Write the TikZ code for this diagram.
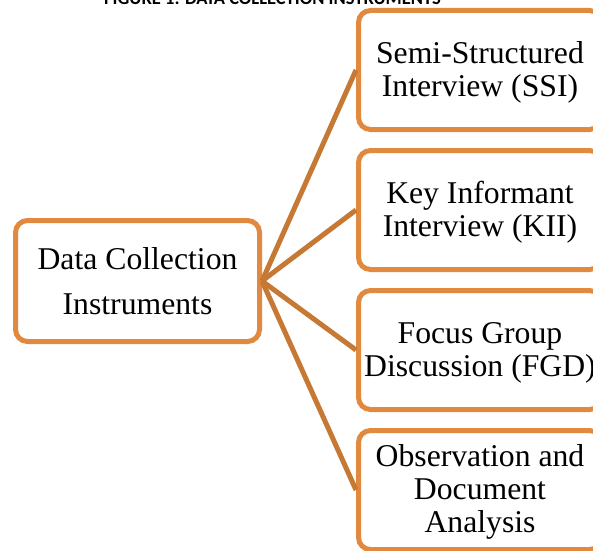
\documentclass[tikz,border=0pt]{standalone}
\usepackage{fontspec}
\setmainfont{Liberation Serif}
\newfontfamily\titlefont{Carlito}
\usepackage{tikz}
\usetikzlibrary{positioning}
\definecolor{dcorange}{RGB}{226,137,64}
\definecolor{dcline}{RGB}{198,121,52}
% text block set a little low in its box
\newcommand{\lowtext}[1]{\raisebox{-3pt}[\height][\depth]{\begin{tabular}{@{}c@{}}#1\end{tabular}}}
\tikzset{
  srcbox/.style={
    rectangle, rounded corners=12pt, draw=dcorange, line width=5pt,
    fill=white, minimum width=244pt, minimum height=121pt,
    inner sep=0pt, align=center, font=\fontsize{31.7}{45}\selectfont
  },
  instbox/.style={
    rectangle, rounded corners=12pt, draw=dcorange, line width=5pt,
    fill=white, minimum width=243pt, minimum height=119pt,
    inner sep=0pt, font=\fontsize{31.7}{33}\selectfont
  },
  branchline/.style={dcline, line width=5pt}
}
\begin{document}
\begin{tikzpicture}[x=1pt, y=1pt, node distance=16pt]
  \useasboundingbox (0,0) rectangle (593,550);

  \node[anchor=base, font=\fontsize{18.5}{20}\selectfont\titlefont\bfseries] (title)
    at (272.5,545.5) {FIGURE 1: DATA COLLECTION INSTRUMENTS};

  \node[srcbox] (dci) at (137.5,269) {Data Collection\\Instruments};

  \node[instbox] (ssi) at (480,480) {\lowtext{Semi-Structured\\Interview (SSI)}};
  \node[instbox, below=of ssi] (kii) {\lowtext{Key Informant\\Interview (KII)}};
  \node[instbox, below=of kii] (fgd) {\lowtext{Focus Group\\Discussion (FGD)}};
  \node[instbox, below=of fgd] (oda) {\lowtext{Observation and\\Document\\Analysis}};

  % Branches
  \draw[branchline] (dci.east) -- (ssi.west);
  \draw[branchline] (dci.east) -- (kii.west);
  \draw[branchline] (dci.east) -- (fgd.west);
  \draw[branchline] (dci.east) -- (oda.west);
\end{tikzpicture}
\end{document}
